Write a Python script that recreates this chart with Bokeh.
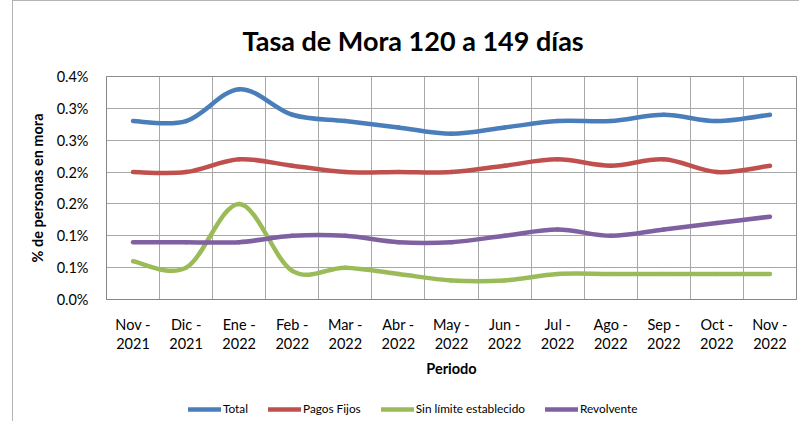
import numpy as np
from bokeh.plotting import figure
from bokeh.layouts import column
from bokeh.models import FixedTicker, Legend, LegendItem, ColumnDataSource
from bokeh.embed import file_html
from bokeh.resources import INLINE

# ---- data (values in %) ----
periods = ["Nov -\n2021", "Dic -\n2021", "Ene -\n2022", "Feb -\n2022", "Mar -\n2022",
           "Abr -\n2022", "May -\n2022", "Jun -\n2022", "Jul -\n2022", "Ago -\n2022",
           "Sep -\n2022", "Oct -\n2022", "Nov -\n2022"]
total = [0.28, 0.28, 0.33, 0.29, 0.28, 0.27, 0.26, 0.27, 0.28, 0.28, 0.29, 0.28, 0.29]
pagos_fijos = [0.20, 0.20, 0.22, 0.21, 0.20, 0.20, 0.20, 0.21, 0.22, 0.21, 0.22, 0.20, 0.21]
sin_limite = [0.06, 0.05, 0.15, 0.045, 0.05, 0.04, 0.03, 0.03, 0.04, 0.04, 0.04, 0.04, 0.04]
revolvente = [0.09, 0.09, 0.09, 0.10, 0.10, 0.09, 0.09, 0.10, 0.11, 0.10, 0.11, 0.12, 0.13]
series_names = ["Total", "Pagos Fijos", "Sin límite establecido", "Revolvente"]
series_colors = ["#4A7EBB", "#C0504D", "#9BBB59", "#7F60A0"]
y_ticks = [0.0, 0.05, 0.10, 0.15, 0.20, 0.25, 0.30, 0.35]
y_tick_labels = ["0.0%", "0.1%", "0.1%", "0.2%", "0.2%", "0.3%", "0.3%", "0.4%"]
all_series = [total, pagos_fijos, sin_limite, revolvente]

FONT = "Lato"


def smooth_source(vals):
    """Bezier segments (Catmull-Rom style smoothing, like Excel's smoothed line)."""
    y = np.asarray(vals, dtype=float)
    n = len(y)
    x = np.arange(n, dtype=float)
    xp = np.concatenate([[x[0]], x, [x[-1]]])
    yp = np.concatenate([[y[0]], y, [y[-1]]])
    p0x, p1x, p2x, p3x = xp[0:n - 1], xp[1:n], xp[2:n + 1], xp[3:n + 2]
    p0y, p1y, p2y, p3y = yp[0:n - 1], yp[1:n], yp[2:n + 1], yp[3:n + 2]
    return ColumnDataSource(dict(
        x0=p1x, y0=p1y, x1=p2x, y1=p2y,
        cx0=p1x + (p2x - p0x) / 6.0, cy0=p1y + (p2y - p0y) / 6.0,
        cx1=p2x - (p3x - p1x) / 6.0, cy1=p2y - (p3y - p1y) / 6.0,
    ))


p = figure(frame_width=690, frame_height=223,
           x_range=(-0.5, len(periods) - 0.5), y_range=(0, 0.35),
           output_backend="svg", toolbar_location=None,
           min_border_left=93, min_border_right=3, min_border_top=75,
           min_border_bottom=100)

p.title.text = "Tasa de Mora 120 a 149 días"
p.title.align = "left"
p.title.offset = 136
p.title.text_font = FONT
p.title.text_font_size = "27px"
p.title.text_font_style = "bold"
p.title.text_color = "black"
p.title.standoff = 40

p.outline_line_color = "#8c8c8c"
p.background_fill_color = "white"

# axes
p.xaxis.ticker = FixedTicker(ticks=list(range(len(periods))))
p.xaxis.major_label_overrides = {i: lab for i, lab in enumerate(periods)}
p.yaxis.ticker = FixedTicker(ticks=y_ticks)
p.yaxis.major_label_overrides = {t: lab for t, lab in zip(y_ticks, y_tick_labels)}

for ax in (p.xaxis[0], p.yaxis[0]):
    ax.axis_line_color = "#868686"
    ax.major_tick_line_color = None
    ax.minor_tick_line_color = None
    ax.major_label_text_font = FONT
    ax.major_label_text_font_size = "14.5px"
    ax.major_label_text_color = "black"
    ax.axis_label_text_font = FONT
    ax.axis_label_text_font_size = "14.5px"
    ax.axis_label_text_font_style = "bold"
    ax.axis_label_text_color = "black"

p.xaxis.axis_label = "Periodo"
p.yaxis.axis_label = "% de personas en mora"
p.xaxis.major_label_standoff = 10
p.xaxis.major_label_text_line_height = 1.15
p.xaxis.axis_label_standoff = 5
p.yaxis.major_label_standoff = 12
p.yaxis.axis_label_standoff = 8

# grid at category boundaries
p.xgrid.ticker = FixedTicker(ticks=[i - 0.5 for i in range(len(periods) + 1)])
p.xgrid.grid_line_color = "#a8a8a8"
p.ygrid.grid_line_color = "#a8a8a8"

line_style = dict(line_width=4.5, line_cap="round")
for vals, color in zip(all_series, series_colors):
    p.bezier(x0="x0", y0="y0", x1="x1", y1="y1", cx0="cx0", cy0="cy0",
             cx1="cx1", cy1="cy1", source=smooth_source(vals),
             line_color=color, **line_style)

# legend strip below the chart (its own small canvas; series kept off-view there)
leg = figure(frame_width=786, frame_height=22, x_range=(-0.5, len(periods) - 0.5),
             y_range=(10, 11), output_backend="svg", toolbar_location=None,
             x_axis_location=None, y_axis_location=None,
             min_border_left=0, min_border_right=0, min_border_top=0, min_border_bottom=0)
leg.outline_line_color = None
leg.xgrid.visible = False
leg.ygrid.visible = False
leg_renderers = []
for vals, color in zip(all_series, series_colors):
    r = leg.bezier(x0="x0", y0="y0", x1="x1", y1="y1", cx0="cx0", cy0="cy0",
                   cx1="cx1", cy1="cy1", source=smooth_source(vals),
                   line_color=color, **line_style)
    leg_renderers.append(r)

legend = Legend(items=[LegendItem(label=n, renderers=[r]) for n, r in zip(series_names, leg_renderers)],
                orientation="horizontal", location=(175, 5),
                label_text_font=FONT, label_text_font_size="11.8px", label_text_color="black",
                glyph_width=33, glyph_height=14, label_standoff=2, spacing=20,
                padding=0, margin=0, border_line_color=None, background_fill_alpha=0)
leg.add_layout(legend, "center")

layout = column(p, leg, spacing=0,
                styles={"border-left": "1px solid #b4b4b4", "border-top": "1px solid #b4b4b4",
                        "margin-left": "12px", "margin-top": "0px"})

open("out.html", "w").write(file_html(layout, INLINE))
